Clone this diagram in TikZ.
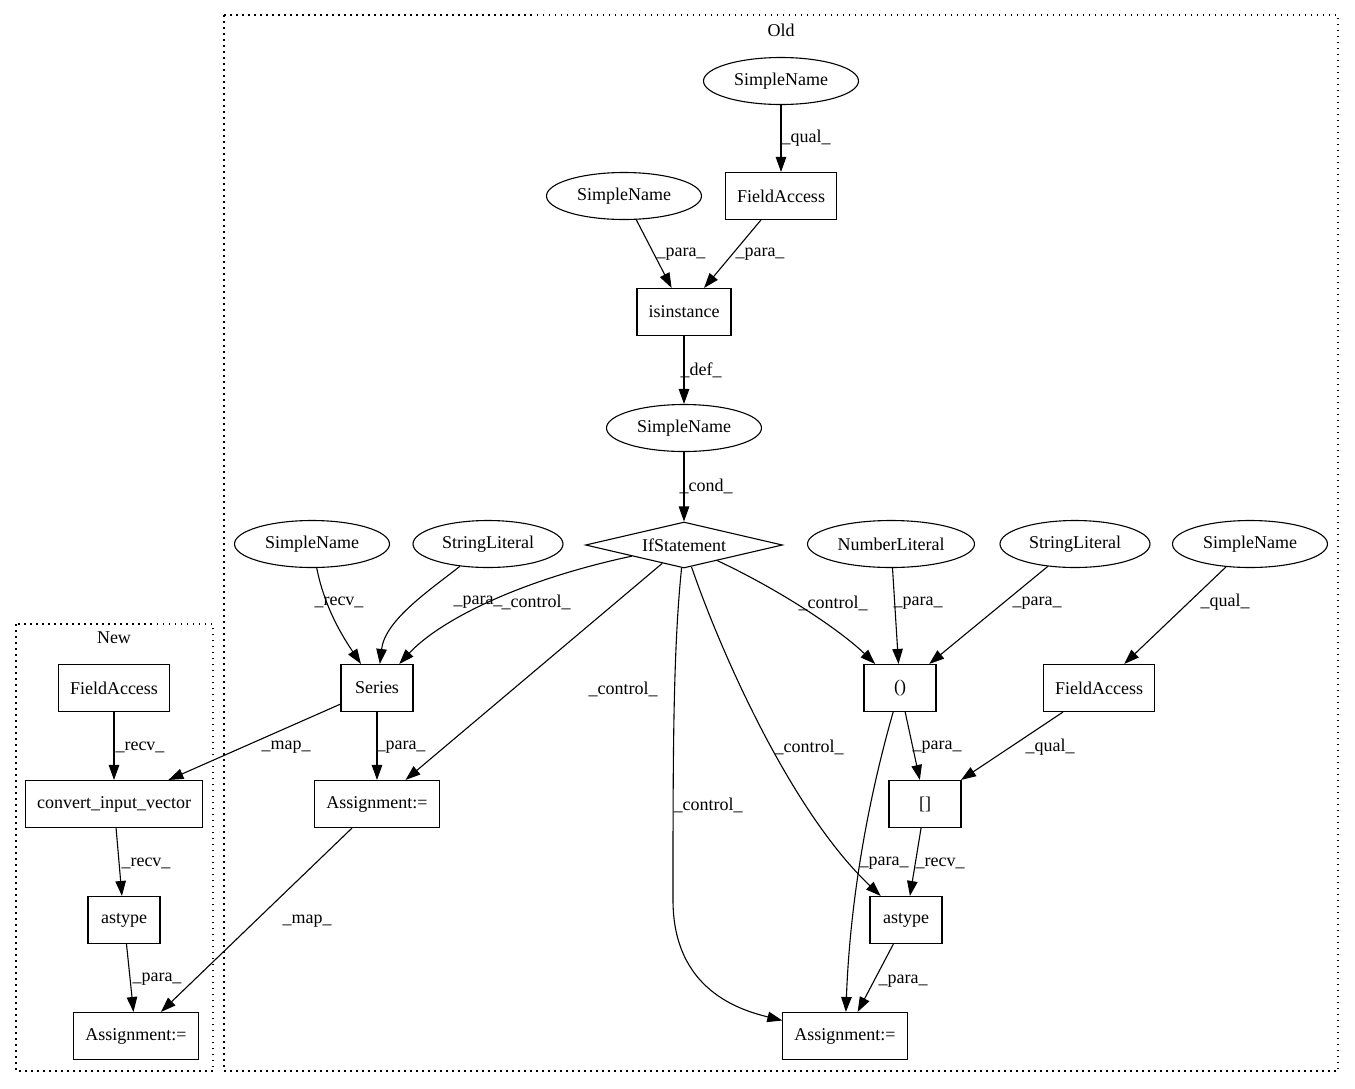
\documentclass[tikz,border=0pt]{standalone}
\usepackage{fontspec}
\setmainfont{Liberation Serif}
\usetikzlibrary{shapes.geometric,arrows.meta}
\begin{document}
\begin{tikzpicture}[x=1pt,y=-1pt,
  every node/.style={font=\fontsize{18}{21}\selectfont},
  box/.style={draw, rectangle, line width=1.1pt, minimum width=72pt, minimum height=47pt, inner xsep=11.5pt, inner ysep=0pt},
  ell/.style={draw, ellipse, line width=1.1pt, minimum height=47pt, inner sep=0pt},
  dia/.style={draw, diamond, aspect=4, line width=1.1pt, minimum width=197pt, minimum height=46pt, inner sep=0pt},
  e/.style={line width=1.1pt, -{Triangle[length=15pt,width=10.5pt]}},
  lbl/.style={inner sep=0pt},
  clus/.style={line width=1.1pt, dash pattern=on 1.5pt off 4.5pt}]
\useasboundingbox[fill=white] (0,0) rectangle (1355,1088);
% clusters
\draw[clus] (224,15) rectangle (1338,1071);
\draw[clus] (16,624) rectangle (213,1071);
\node (oldlbl) at (781,30) {Old};
\node (newlbl) at (114,638) {New};
% Old nodes
\node[ell, minimum width=155pt] (sn0) at (781,81) {SimpleName};
\node[box] (fa0) at (781,196) {FieldAccess};
\node[ell, minimum width=155pt] (sn1) at (624,196) {SimpleName};
\node[box] (isi) at (684,312) {isinstance};
\node[ell, minimum width=155pt] (sn2) at (684,428) {SimpleName};
\node[dia] (ifs) at (684,545) {IfStatement};
\node[ell, minimum width=155pt] (sn3) at (312,544) {SimpleName};
\node[ell, minimum width=150pt] (sl1) at (488,544) {StringLiteral};
\node[ell, minimum width=167pt] (nl) at (891,544) {NumberLiteral};
\node[ell, minimum width=150pt] (sl2) at (1075,544) {StringLiteral};
\node[ell, minimum width=155pt] (sn4) at (1250,544) {SimpleName};
\node[box] (ser) at (377,688) {Series};
\node[box] (par) at (900,688) {()};
\node[box] (fa1) at (1099,688) {FieldAccess};
\node[box] (asg1) at (377,804) {Assignment:=};
\node[box] (brk) at (925,804) {[]};
\node[box] (ast1) at (906,920) {astype};
\node[box] (asg2) at (845,1036) {Assignment:=};
% New nodes
\node[box] (fa2) at (114,688) {FieldAccess};
\node[box] (civ) at (114,804) {convert\_input\_vector};
\node[box] (ast2) at (124,920) {astype};
\node[box] (asg3) at (136,1036) {Assignment:=};
% edges
\draw[e] (sn0) -- (fa0) node[lbl] at (806,138) {\_qual\_};
\draw[e] (sn1) -- (isi) node[lbl] at (681,254) {\_para\_};
\draw[e] (fa0) -- (isi) node[lbl] at (760,254) {\_para\_};
\draw[e] (isi) -- (sn2) node[lbl] at (701,370) {\_def\_};
\draw[e] (sn2) -- (ifs) node[lbl] at (706,486) {\_cond\_};
\draw[e] (sn3) .. controls (325,610) and (345,640) .. (ser) node[lbl] at (339,602) {\_recv\_};
\draw[e] (sl1) .. controls (430,590) and (385,620) .. (ser) node[lbl] at (478,602) {\_para\_};
\draw[e] (ifs) .. controls (520,580) and (440,620) .. (ser) node[lbl] at (536,602) {\_control\_};
\draw[e] (ifs) -- (asg1) node[lbl] at (623,689) {\_control\_};
\draw[e] (ifs) .. controls (673,650) and (673,760) .. (673,900) .. controls (673,990) and (740,1010) .. (asg2) node[lbl] at (708,805) {\_control\_};
\draw[e] (ifs) .. controls (720,650) and (790,810) .. (ast1) node[lbl] at (809,747) {\_control\_};
\draw[e] (ifs) .. controls (780,590) and (840,630) .. (par) node[lbl] at (833,603) {\_control\_};
\draw[e] (nl) -- (par) node[lbl] at (918,603) {\_para\_};
\draw[e] (sl2) -- (par) node[lbl] at (1037,603) {\_para\_};
\draw[e] (sn4) -- (fa1) node[lbl] at (1225,602) {\_qual\_};
\draw[e] (ser) -- (civ) node[lbl] at (286,747) {\_map\_};
\draw[e] (ser) -- (asg1) node[lbl] at (401,747) {\_para\_};
\draw[e] (par) -- (brk) node[lbl] at (937,747) {\_para\_};
\draw[e] (par) .. controls (868,800) and (850,900) .. (asg2) node[lbl] at (884,863) {\_para\_};
\draw[e] (fa1) -- (brk) node[lbl] at (1050,747) {\_qual\_};
\draw[e] (brk) -- (ast1) node[lbl] at (940,863) {\_recv\_};
\draw[e] (ast1) -- (asg2) node[lbl] at (903,981) {\_para\_};
\draw[e] (asg1) -- (asg3) node[lbl] at (307,921) {\_map\_};
\draw[e] (fa2) -- (civ) node[lbl] at (140,747) {\_recv\_};
\draw[e] (civ) -- (ast2) node[lbl] at (146,863) {\_recv\_};
\draw[e] (ast2) -- (asg3) node[lbl] at (157,979) {\_para\_};
\end{tikzpicture}
\end{document}
